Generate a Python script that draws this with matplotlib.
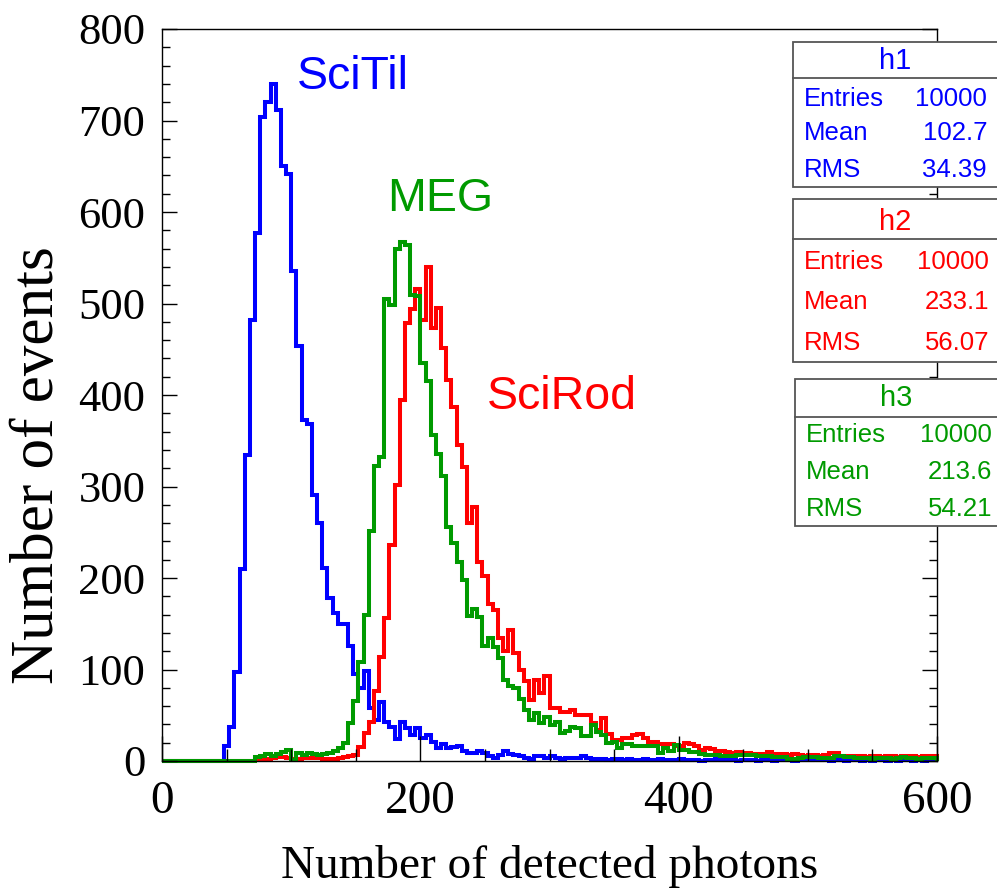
import numpy as np
import matplotlib.pyplot as plt
from matplotlib.patches import Rectangle
from matplotlib.lines import Line2D
from matplotlib.ticker import MultipleLocator

# 150 bins of width 4 between 0 and 600 photons
edges = np.arange(0, 604, 4)

# h1: SciTil
scitil = [0] * 12 + [
    16, 37, 97, 210, 334, 482, 577, 704, 720, 740,
    711, 650, 642, 536, 454, 373, 368, 291, 260, 211,
    178, 162, 150, 150, 126, 95, 80, 98, 58, 45,
    65, 43, 37, 24, 43, 36, 28, 36, 25, 28,
    21, 14, 19, 14, 15, 16, 11, 9, 9, 11,
    9, 5, 3, 7, 11, 8, 7, 5, 3, 2,
    5, 5, 3, 5, 3, 2, 3, 3, 3, 5,
    3, 2, 2, 2, 1, 2, 2, 1, 2, 1,
    1, 2, 1, 1, 2, 1, 1, 1, 2, 1,
    1, 1, 0, 1, 1, 2, 1, 1, 1, 0,
    1, 1, 1, 0, 1, 1, 0, 1, 1, 1,
    0, 1, 1, 1, 2, 1, 1, 0, 1, 1,
    0, 1, 1, 0, 1, 0, 1, 1, 0, 1,
    0, 1, 1, 0, 1, 0, 1, 1]

# h2: SciRod
scirod = [0] * 18 + [
    1, 1, 2, 3, 4, 4, 3, 2, 2, 3,
    3, 3, 3, 2, 2, 2, 3, 4, 5, 7,
    15, 31, 43, 76, 114, 156, 236, 302, 395, 479,
    494, 516, 482, 540, 473, 495, 451, 416, 387, 345,
    321, 260, 278, 218, 202, 172, 165, 134, 120, 143,
    118, 99, 87, 67, 89, 74, 93, 58, 58, 54,
    54, 56, 50, 50, 50, 41, 34, 47, 30, 23,
    23, 25, 25, 28, 30, 25, 21, 21, 19, 19,
    19, 16, 16, 20, 19, 16, 12, 14, 13, 11,
    11, 10, 9, 10, 9, 9, 8, 8, 8, 10,
    8, 8, 8, 7, 8, 7, 6, 7, 7, 6,
    7, 9, 9, 6, 5, 6, 5, 5, 4, 5,
    5, 4, 5, 5, 4, 5, 6, 5, 4, 5, 5, 5]

# h3: MEG
meg = [0] * 18 + [
    4, 6, 8, 5, 8, 10, 12, 1, 9, 7,
    9, 8, 7, 8, 9, 11, 14, 20, 42, 66,
    108, 160, 251, 322, 332, 505, 498, 560, 567, 564,
    509, 508, 435, 415, 356, 335, 311, 256, 238, 218,
    198, 158, 166, 157, 126, 134, 125, 113, 89, 82,
    80, 68, 56, 45, 52, 41, 48, 39, 43, 31,
    33, 37, 36, 27, 27, 39, 32, 28, 20, 21,
    14, 19, 19, 16, 16, 16, 16, 16, 9, 14,
    11, 17, 12, 12, 10, 10, 8, 7, 7, 7,
    5, 5, 5, 7, 7, 7, 7, 5, 5, 5,
    4, 4, 4, 2, 2, 3, 4, 4, 4, 3,
    3, 3, 5, 5, 4, 4, 3, 3, 3, 2,
    3, 3, 3, 2, 3, 4, 3, 3, 2, 3, 3, 3]

# stats boxes
hist_names = ['h1', 'h2', 'h3']
entries = ['10000', '10000', '10000']
means = ['102.7', '233.1', '213.6']
rms = ['34.39', '56.07', '54.21']

BLUE = '#0000ff'
RED = '#ff0000'
GREEN = '#009a00'
SERIF = 'Liberation Serif'
SANS = 'Liberation Sans'

W, H = 997, 893
fig = plt.figure(figsize=(W / 100, H / 100), dpi=100)


def fx(px):
    return px / W


def fy(py):
    return 1 - py / H


ax = fig.add_axes([fx(162), fy(761), fx(937) - fx(162), fy(29) - fy(761)])

for vals, col in ((scitil, BLUE), (scirod, RED), (meg, GREEN)):
    ax.stairs(vals, edges, color=col, lw=2.9, clip_on=False)

ax.set_xlim(0, 600)
ax.set_ylim(0, 800)
ax.xaxis.set_major_locator(MultipleLocator(200))
ax.xaxis.set_minor_locator(MultipleLocator(50))
ax.yaxis.set_major_locator(MultipleLocator(100))
ax.yaxis.set_minor_locator(MultipleLocator(20))
ax.tick_params(which='both', direction='in', right=True, top=False, width=1)
ax.tick_params(axis='x', which='major', length=18, pad=14, labelsize=34)
ax.tick_params(axis='x', which='minor', length=9)
ax.tick_params(axis='y', which='major', length=11, pad=12, labelsize=32)
ax.tick_params(axis='y', which='minor', length=6)
for lab in ax.get_xticklabels() + ax.get_yticklabels():
    lab.set_fontfamily(SERIF)
for sp in ax.spines.values():
    sp.set_linewidth(1)

ax.set_xlabel('Number of detected photons', fontsize=34, family=SERIF, labelpad=16)
fig.text(fx(38), fy(465), 'Number of events', fontsize=44, family=SERIF,
         rotation=90, ha='center', va='center')

ax.text(104.5, 748, 'SciTil', color=BLUE, fontsize=33.5, family=SANS, va='center')
ax.text(174, 614, 'MEG', color=GREEN, fontsize=33.5, family=SANS, va='center')
ax.text(251.5, 398, 'SciRod', color=RED, fontsize=33.5, family=SANS, va='center')

# box geometry in pixels: left, top, divider, bottom, title y, row ys, value x
boxes = [
    (792.7, 41.7, 78.3, 186.7, 60.8, (98.7, 133, 170), 987),
    (792.7, 199.3, 239.3, 361.7, 222.5, (261.7, 302.5, 343), 989),
    (794.7, 379.3, 416.7, 526.0, 398, (435, 471.7, 508.7), 992),
]
colors = [BLUE, RED, GREEN]
for i, (left, top, div, bot, ty, rows, vx) in enumerate(boxes):
    col = colors[i]
    fig.add_artist(Rectangle((fx(left), fy(bot)), 1.01 - fx(left), fy(top) - fy(bot),
                             transform=fig.transFigure, facecolor='white',
                             edgecolor='#555555', lw=1.3))
    fig.add_artist(Line2D([fx(left), 1.01], [fy(div), fy(div)],
                          transform=fig.transFigure, color='#555555', lw=1.3))
    cx = (left + W) / 2
    fig.text(fx(cx), fy(ty), hist_names[i], color=col, fontsize=21,
             family=SANS, ha='center', va='center')
    for lab, val, ry in zip(['Entries', 'Mean', 'RMS'],
                            [entries[i], means[i], rms[i]], rows):
        fig.text(fx(left + 11), fy(ry), lab, color=col, fontsize=18.5,
                 family=SANS, ha='left', va='center')
        fig.text(fx(vx), fy(ry), val, color=col, fontsize=18.5,
                 family=SANS, ha='right', va='center')

fig.savefig('out.png', dpi=100)
